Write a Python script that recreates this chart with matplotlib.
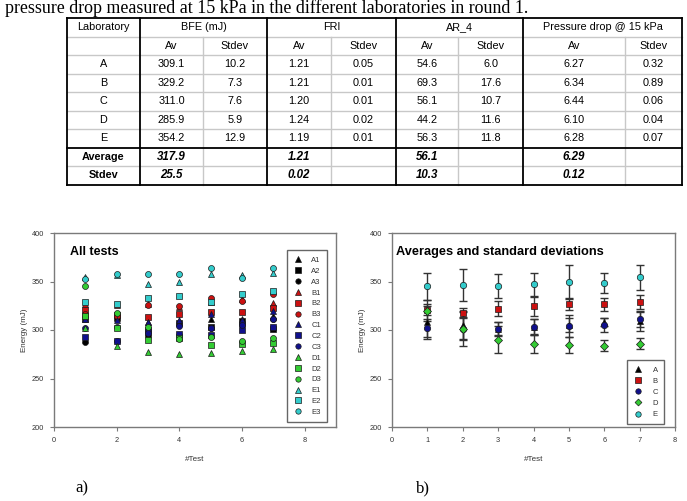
import matplotlib
matplotlib.use("Agg")
import matplotlib.pyplot as plt

# ---------------- data ----------------
labs = ["A", "B", "C", "D", "E"]
bfe_av = [309.1, 329.2, 311.0, 285.9, 354.2]
bfe_sd = [10.2, 7.3, 7.6, 5.9, 12.9]
fri_av = [1.21, 1.21, 1.20, 1.24, 1.19]
fri_sd = [0.05, 0.01, 0.01, 0.02, 0.01]
ar_av = [54.6, 69.3, 56.1, 44.2, 56.3]
ar_sd = [6.0, 17.6, 10.7, 11.6, 11.8]
dp_av = [6.27, 6.34, 6.44, 6.10, 6.28]
dp_sd = [0.32, 0.89, 0.06, 0.04, 0.07]
avg_row = ["317.9", "1.21", "56.1", "6.29"]
std_row = ["25.5", "0.02", "10.3", "0.12"]

tests = [1, 2, 3, 4, 5, 6, 7]
A1 = [316, 312, 308, 308, 311, 311, 314]
A2 = [311, 313, 300, 307, 303, 309, 301]
A3 = [288, 289, 294, 295, 302, 305, 311]
B1 = [327, 326, 327, 324, 329, 332, 328]
B2 = [321, 315, 313, 316, 319, 319, 323]
B3 = [317, 314, 326, 325, 333, 330, 337]
C1 = [311, 310, 308, 310, 316, 310, 320]
C2 = [293, 289, 298, 296, 295, 300, 303]
C3 = [302, 303, 297, 304, 302, 305, 311]
D1 = [302, 284, 277, 275, 276, 278, 280]
D2 = [314, 302, 290, 292, 285, 286, 287]
D3 = [345, 318, 303, 291, 293, 289, 292]
E1 = [355, 357, 347, 350, 358, 357, 359]
E2 = [329, 327, 333, 335, 329, 337, 340]
E3 = [353, 358, 358, 358, 364, 354, 364]

mean_A = [308, 305, 301, 303, 305, 308, 309.1]
mean_B = [321, 318, 322, 324.5, 327, 326.5, 329.2]
mean_C = [302, 301, 301.5, 303, 304, 305, 311.0]
mean_D = [320, 301.5, 290, 286, 284.5, 284, 285.9]
mean_E = [345, 346.5, 345.5, 347, 349.5, 348.5, 354.2]
sd_A = [17, 14, 7, 8, 7, 4, 10.2]
sd_B = [6, 5, 8, 10, 6.5, 7, 7.3]
sd_C = [9, 11, 7, 8, 11, 7, 7.6]
sd_D = [11, 18, 14, 9.5, 8, 6, 5.9]
sd_E = [14, 16.5, 12.5, 11.5, 18, 10.3, 12.9]

# ---------------- style ----------------
plt.rcParams["font.family"] = ["Liberation Sans", "DejaVu Sans"]
W, H = 687, 501
fig = plt.figure(figsize=(W / 100, H / 100), dpi=100)
fig.patch.set_facecolor("white")

lab_colors = {"A": "#000000", "B": "#cc1111", "C": "#10108c", "D": "#33cc33", "E": "#33cccc"}
edge = "#1a1a1a"

# ---------------- background layer (table, captions) ----------------
bg = fig.add_axes([0, 0, 1, 1])
bg.set_xlim(0, W)
bg.set_ylim(H, 0)
bg.axis("off")

bg.text(5, 12.5, "pressure drop measured at 15 kPa in the different laboratories in round 1.",
        family="Liberation Serif", fontsize=12.9, va="baseline", ha="left")

col_edges = [67, 140, 203, 267, 331, 396, 458, 523, 625, 682]
row_edges = [18, 36.5, 55, 73.5, 92, 110.5, 129, 147.5, 166, 184.5]
thick_cols = [67, 140, 267, 396, 523, 682]
thin_cols = [203, 331, 458, 625]
grey = "#c8c8c8"
fs = 7.8

for y in row_edges[1:-1]:
    if y != 147.5:
        bg.plot([col_edges[0], col_edges[-1]], [y, y], color=grey, lw=1, zorder=1)
for x in thin_cols:
    bg.plot([x, x], [row_edges[1], row_edges[-1]], color=grey, lw=1, zorder=1)
for x in thick_cols:
    bg.plot([x, x], [row_edges[0], row_edges[-1]], color="black", lw=1.3, zorder=2)
for y in [row_edges[0], 147.5, row_edges[-1]]:
    bg.plot([col_edges[0], col_edges[-1]], [y, y], color="black", lw=1.3, zorder=2)

def ctr(i):
    return (col_edges[i] + col_edges[i + 1]) / 2

def rc(j):
    return (row_edges[j] + row_edges[j + 1]) / 2

bg.text(ctr(0), rc(0), "Laboratory", ha="center", va="center", fontsize=fs)
headers = ["BFE (mJ)", "FRI", "AR_4", "Pressure drop @ 15 kPa"]
for k, h in enumerate(headers):
    x = (col_edges[1 + 2 * k] + col_edges[3 + 2 * k]) / 2
    bg.text(x, rc(0), h, ha="center", va="center", fontsize=fs)
    bg.text(ctr(1 + 2 * k), rc(1), "Av", ha="center", va="center", fontsize=fs)
    bg.text(ctr(2 + 2 * k), rc(1), "Stdev", ha="center", va="center", fontsize=fs)

cols = [(bfe_av, "{:.1f}"), (bfe_sd, "{:.1f}"), (fri_av, "{:.2f}"), (fri_sd, "{:.2f}"),
        (ar_av, "{:.1f}"), (ar_sd, "{:.1f}"), (dp_av, "{:.2f}"), (dp_sd, "{:.2f}")]
for r, lab in enumerate(labs):
    bg.text(ctr(0), rc(2 + r), lab, ha="center", va="center", fontsize=fs)
    for c, (vals, f) in enumerate(cols):
        bg.text(ctr(1 + c), rc(2 + r), f.format(vals[r]), ha="center", va="center", fontsize=fs)

bg.text(ctr(0), rc(7), "Average", ha="center", va="center", fontsize=fs, weight="bold")
bg.text(ctr(0), rc(8), "Stdev", ha="center", va="center", fontsize=fs, weight="bold")
for k in range(4):
    bg.text(ctr(1 + 2 * k), rc(7), avg_row[k], ha="center", va="center", fontsize=fs + 0.5,
            weight="bold", style="italic")
    bg.text(ctr(1 + 2 * k), rc(8), std_row[k], ha="center", va="center", fontsize=fs + 0.5,
            weight="bold", style="italic")

bg.text(75, 488, "a)", family="Liberation Serif", fontsize=12, ha="left", va="center")
bg.text(416, 488, "b)", family="Liberation Serif", fontsize=12, ha="left", va="center")

# ---------------- plot helpers ----------------
def style_axes(ax, xmax, xticks):
    ax.set_xlim(0, xmax)
    ax.set_ylim(200, 400)
    ax.set_xticks(xticks)
    ax.set_yticks([200, 250, 300, 350, 400])
    for s in ax.spines.values():
        s.set_color("#7a7a7a")
        s.set_linewidth(1)
    ax.tick_params(labelsize=5.3, colors="#7a7a7a", labelcolor="#333333", length=3, width=0.8,
                   direction="out", pad=4)
    ax.set_ylabel("Energy (mJ)", fontsize=5.8, color="#333333", labelpad=3)
    ax.set_xlabel("#Test", fontsize=5.8, color="#333333", labelpad=9)

# ---------------- a) all tests ----------------
axa = fig.add_axes([54 / W, (H - 427) / H, 282 / W, 194 / H])
style_axes(axa, 9, [0, 2, 4, 6, 8])
series = [("A1", A1), ("A2", A2), ("A3", A3), ("B1", B1), ("B2", B2), ("B3", B3),
          ("C1", C1), ("C2", C2), ("C3", C3), ("D1", D1), ("D2", D2), ("D3", D3),
          ("E1", E1), ("E2", E2), ("E3", E3)]
shapes = {"1": "^", "2": "s", "3": "o"}
for name, vals in series:
    axa.plot(tests, vals, ls="none", marker=shapes[name[1]], ms=4.3,
             mfc=lab_colors[name[0]], mec=edge, mew=0.5, label=name, zorder=3)
axa.text(0.055, 0.9, "All tests", transform=axa.transAxes, fontsize=9, weight="bold",
         ha="left", va="center")
leg = axa.legend(loc="upper left", bbox_to_anchor=(0.826, 0.91), fontsize=5.5, numpoints=1,
                 handlelength=1.4, handletextpad=1.0, labelspacing=0.46, borderpad=0.8,
                 borderaxespad=0, frameon=True, fancybox=False, markerscale=0.9)
leg.get_frame().set_edgecolor("#404040")
leg.get_frame().set_linewidth(1)
for t in leg.get_texts():
    t.set_color("#333333")

# ---------------- b) averages ----------------
axb = fig.add_axes([392 / W, (H - 427) / H, 283 / W, 194 / H])
style_axes(axb, 8, [0, 1, 2, 3, 4, 5, 6, 7, 8])
avg_series = [("A", mean_A, sd_A, "^"), ("B", mean_B, sd_B, "s"), ("C", mean_C, sd_C, "o"),
              ("D", mean_D, sd_D, "D"), ("E", mean_E, sd_E, "o")]
for name, m, s, mk in avg_series:
    axb.errorbar(tests, m, yerr=s, fmt="none", ecolor="#333333", elinewidth=1, capsize=3.2,
                 capthick=1, zorder=2)
for name, m, s, mk in avg_series:
    axb.plot(tests, m, ls="none", marker=mk, ms=4.6 if mk != "D" else 4.1,
             mfc=lab_colors[name], mec=edge, mew=0.5, label=name, zorder=3)
axb.text(0.015, 0.9, "Averages and standard deviations", transform=axb.transAxes, fontsize=9.2,
         weight="bold", ha="left", va="center")
legb = axb.legend(loc="upper left", bbox_to_anchor=(0.83, 0.345), fontsize=5.5, numpoints=1,
                  handlelength=1.4, handletextpad=1.2, labelspacing=0.5, borderpad=0.8,
                  borderaxespad=0, frameon=True, fancybox=False, markerscale=0.85)
legb.get_frame().set_edgecolor("#404040")
legb.get_frame().set_linewidth(1)
for t in legb.get_texts():
    t.set_color("#333333")

fig.savefig("out.png", dpi=100, facecolor="white")
